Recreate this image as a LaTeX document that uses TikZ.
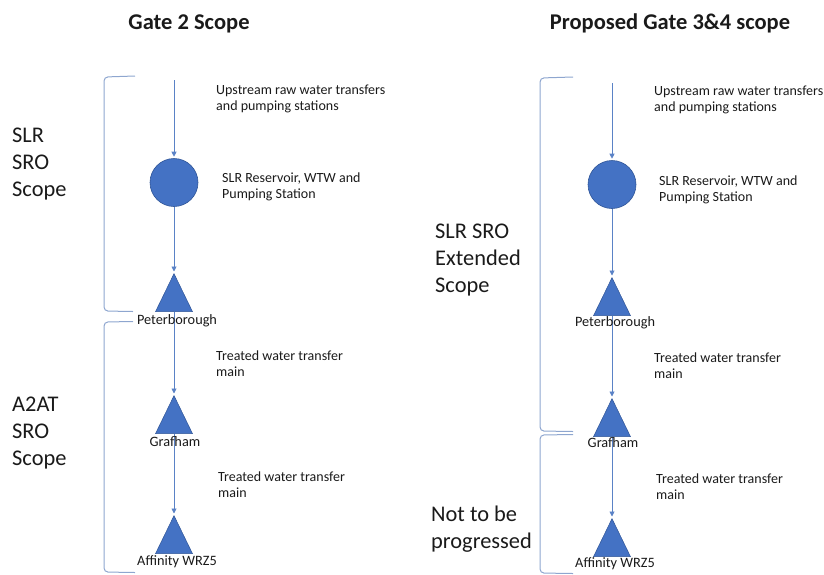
\documentclass[tikz,border=0pt]{standalone}
\usepackage{fontspec}
\setmainfont{Carlito}
\usetikzlibrary{arrows.meta,shapes.geometric}
\definecolor{nodeblue}{HTML}{4472C4}
\definecolor{edgeblue}{HTML}{2F5597}
\definecolor{lineblue}{HTML}{5A82C6}
\definecolor{brackblue}{HTML}{8EA6CF}
\definecolor{txt}{HTML}{1A1A1A}
\begin{document}
\begin{tikzpicture}[x=1pt,y=-1pt,
  res/.style={circle,fill=nodeblue,draw=edgeblue,line width=0.6pt,minimum size=48pt,inner sep=0pt},
  tri/.style={isosceles triangle,isosceles triangle stretches,shape border rotate=90,
     fill=nodeblue,draw=edgeblue,line width=0.5pt,minimum width=37pt,minimum height=38pt,inner sep=0pt,anchor=apex},
  flow/.style={draw=lineblue,line width=0.9pt,-{Triangle[width=5pt,length=5pt]},shorten >=1.5pt},
  brack/.style={draw=brackblue,line width=1pt,rounded corners=4pt},
  title/.style={font=\fontsize{22.5}{26}\selectfont\bfseries,text=txt,inner sep=0pt},
  side/.style={font=\fontsize{22.4}{27}\selectfont,text=txt,align=left,anchor=west,inner sep=0pt},
  note/.style={font=\fontsize{14}{16}\selectfont,text=txt,align=left,anchor=west,inner sep=0pt},
  place/.style={font=\fontsize{14.3}{16}\selectfont,text=txt,inner sep=0pt}]
\useasboundingbox (0,0) rectangle (824,574);

% titles
\node[title] (t1) at (189,23.5) {Gate 2 Scope};
\node[title] (t2) at (670,23.5) {Proposed Gate 3\&4 scope};

% ---------- left column ----------
\coordinate (srcL) at (174,80);
\node[res] (resL) at (174,182.5) {};
\node[tri] (petL) at (174,273) {};
\node[tri] (grafL) at (174,395) {};
\node[tri] (affL) at (174,515) {};

\draw[flow] (srcL) -- (resL.north);
\draw[flow] (resL.south) -- (petL.apex);
\draw[flow] (petL.south) -- (grafL.apex);
\draw[flow] (grafL.south) -- (affL.apex);

\node[place] (petLl) at (177,321) {Peterborough};
\node[place] (grafLl) at (175,442) {Grafham};
\node[place] (affLl) at (177,562) {Affinity WRZ5};

\node[note] (upL) at (216,98.5) {Upstream raw water transfers\\and pumping stations};
\node[note] (slrL) at (222,186.5) {SLR Reservoir, WTW and\\Pumping Station};
\node[note] (twL1) at (216,363.5) {Treated water transfer\\main};
\node[note] (twL2) at (218,484.5) {Treated water transfer\\main};

\draw[brack] (135,76) -- (104,77) -- (104,311) -- (133,311.5);
\draw[brack] (133,321.5) -- (104,322) -- (104,572) -- (135,572.5);

\node[side] (sideL1) at (12,164) {SLR\\SRO\\Scope};
\node[side] (sideL2) at (12,433) {A2AT\\SRO\\Scope};

% ---------- right column ----------
\coordinate (srcR) at (612,83);
\node[res] (resR) at (612,184.5) {};
\node[tri] (petR) at (612,277) {};
\node[tri] (grafR) at (612,398) {};
\node[tri] (affR) at (612,518) {};

\draw[flow] (srcR) -- (resR.north);
\draw[flow] (resR.south) -- (petR.apex);
\draw[flow] (petR.south) -- (grafR.apex);
\draw[flow] (grafR.south) -- (affR.apex);

\node[place] (petRl) at (615,323) {Peterborough};
\node[place] (grafRl) at (613,443) {Grafham};
\node[place] (affRl) at (615,564) {Affinity WRZ5};

\node[note] (upR) at (654,99.5) {Upstream raw water transfers\\and pumping stations};
\node[note] (slrR) at (659,189.5) {SLR Reservoir, WTW and\\Pumping Station};
\node[note] (twR1) at (654,365.5) {Treated water transfer\\main};
\node[note] (twR2) at (656,486.5) {Treated water transfer\\main};

\draw[brack] (573,77) -- (540,78) -- (540,431) -- (573,431.5);
\draw[brack] (573,434.5) -- (540,435) -- (540,573) -- (573,573.5);

\node[side] (sideR1) at (435,260) {SLR SRO\\Extended\\Scope};
\node[side] (sideR2) at (431,529.5) {Not to be\\progressed};
\end{tikzpicture}
\end{document}
